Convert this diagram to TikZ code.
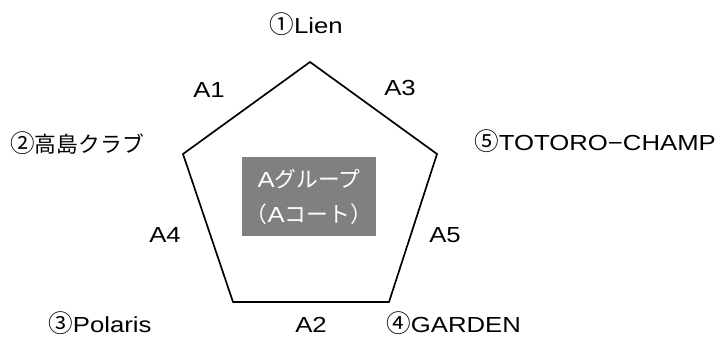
\documentclass[tikz,border=0pt]{standalone}
\usepackage{fontspec}
\setmainfont[FakeStretch=1.18]{Liberation Sans}
\newfontfamily\jp{Noto Sans CJK JP}
\usepackage{tikz}
\usetikzlibrary{positioning,shapes.geometric,calc}
\newcommand{\cnum}[1]{{\jp\fontsize{17.5}{18}\selectfont #1}}
\tikzset{
  lbl/.style={inner sep=0pt, font=\fontsize{15.5}{18}\selectfont},
  court/.style={fill=black!50, text=white, inner sep=0pt, minimum width=3.35cm, minimum height=1.975cm, align=center, font=\fontsize{15.5}{24.9}\selectfont}
}
\begin{document}
\begin{tikzpicture}
    \useasboundingbox (0,0) rectangle (18.025,8.45);
    % vertici del pentagono
    \coordinate (V1) at (7.75, 6.9);
    \coordinate (V2) at (4.575, 4.6);
    \coordinate (V3) at (5.825, 0.9);
    \coordinate (V4) at (9.725, 0.9);
    \coordinate (V5) at (10.925, 4.6);
    \draw[line width=1.2pt, line join=miter] (V1) -- (V2) -- (V3) -- (V4) -- (V5) -- cycle;
    % riquadro centrale
    \node[court] (G) at (7.725, 3.54) {A{\jp グループ}\\{\jp （}A{\jp コート）}};
    % squadre
    \node[lbl, anchor=base] (T1) at (7.65, 7.625) {\cnum{①}Lien};
    \node[lbl, anchor=base west] (T2) at (0.25, 4.65) {\cnum{②}{\jp 高島クラブ}};
    \node[lbl, anchor=base west] (T3) at (1.2, 0.13) {\cnum{③}Polaris};
    \node[lbl, anchor=base west] (T4) at (9.65, 0.13) {\cnum{④}GARDEN};
    \node[lbl, anchor=base west] (T5) at (11.85, 4.7) {\cnum{⑤}TOTORO−CHAMP};
    % partite
    \node[lbl, anchor=base] (M1) at (5.225, 6.025) {A1};
    \node[lbl, anchor=base] (M3) at (10.0, 6.075) {A3};
    \node[lbl, anchor=base] (M4) at (4.125, 2.4) {A4};
    \node[lbl, anchor=base] (M5) at (11.125, 2.4) {A5};
    \node[lbl, anchor=base] (M2) at (7.775, 0.13) {A2};
\end{tikzpicture}
\end{document}
